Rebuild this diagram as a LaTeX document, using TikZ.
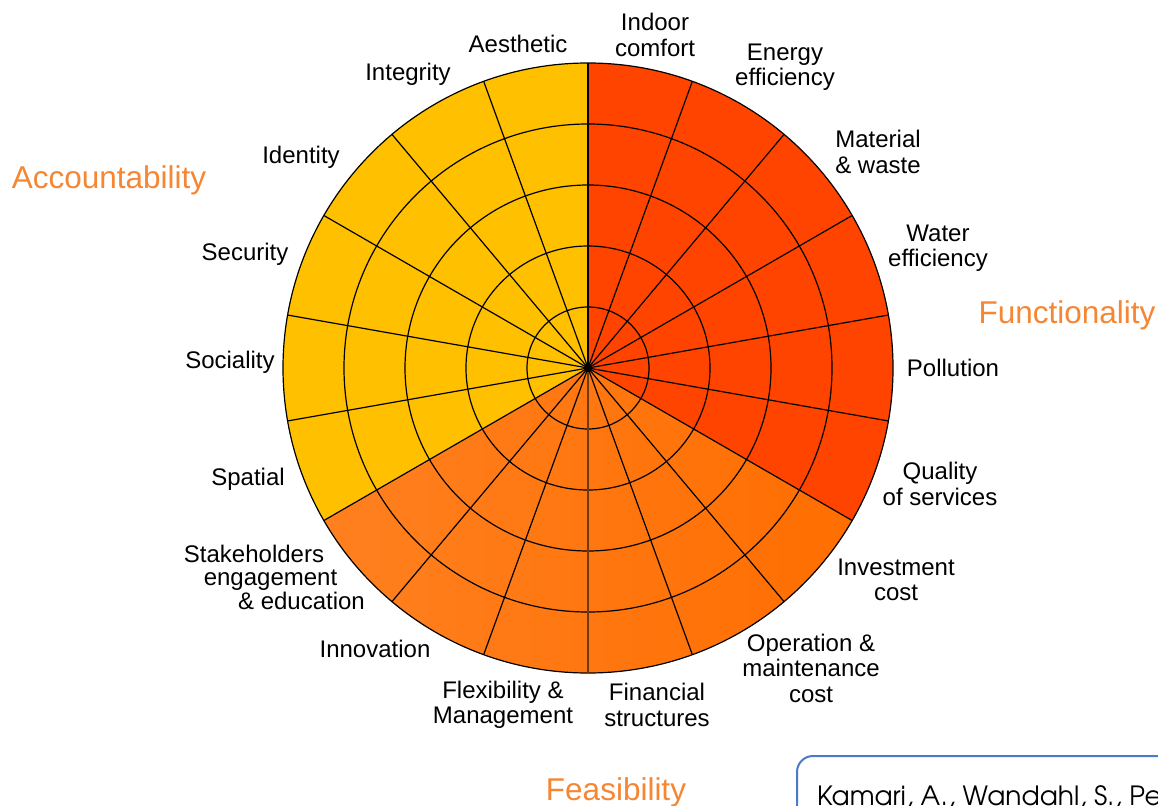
\documentclass[tikz,border=0pt]{standalone}
\usepackage{fontspec}
\setmainfont{Liberation Sans}
\newfontfamily\gothic{texgyreadventor-regular.otf}
\definecolor{cred}{HTML}{FF4400}
\definecolor{corangeL}{HTML}{FF8020}
\definecolor{corangeR}{HTML}{FF6E00}
\definecolor{cyellow}{HTML}{FFC000}
\definecolor{ccat}{HTML}{F58634}
\definecolor{cbox}{HTML}{4A7AC8}
\definecolor{cbrown}{HTML}{6E3A10}
\begin{document}
\begin{tikzpicture}[x=1pt,y=-1pt,
  lab/.style={font=\fontsize{24}{25.5}\selectfont, align=center, inner sep=0pt},
  cat/.style={font=\fontsize{31.5}{34}\selectfont, text=ccat, inner sep=0pt, anchor=base},
  gridline/.style={line width=1.2pt, black}]
\useasboundingbox (0,0) rectangle (1158,805);
\coordinate (c) at (588,368);
% sectors
\fill[cred] (c) -- ++(-90:305) arc[start angle=-90,end angle=30,radius=305] -- cycle;
\shade[left color=corangeL, right color=corangeR] (c) -- ++(30:305) arc[start angle=30,end angle=150,radius=305] -- cycle;
\fill[cyellow] (c) -- ++(150:305) arc[start angle=150,end angle=270,radius=305] -- cycle;
% rings
\foreach \r in {61,122,183,244,305}
  \draw[gridline] (c) circle[radius=\r];
% spokes
\foreach \a in {10,30,...,350}
  \draw[gridline] (c) -- ++(\a:305);
\draw[line width=1.8pt, cbrown] (c) -- ++(90:305);
\fill (c) circle[radius=4];
% item labels
\node[lab] (indoor) at (655,35) {Indoor\\comfort};
\node[lab] (energy) at (785,67) {Energy\\efficiency};
\node[lab] (material) at (878,152) {Material\\\& waste};
\node[lab] (water) at (938,248) {Water\\efficiency};
\node[lab] (pollution) at (953,368) {Pollution};
\node[lab] (quality) at (940,484) {Quality\\of services};
\node[lab] (invest) at (896,580) {Investment\\cost};
\node[lab] (operation) at (811,668) {Operation \&\\maintenance\\cost};
\node[lab] (financial) at (657,705) {Financial\\structures};
\node[lab] (flex) at (503,705) {Flexibility \&\\Management};
\node[lab] (innov) at (375,649) {Innovation};
\node[lab, anchor=base] (stake1) at (254,562) {Stakeholders};
\node[lab, anchor=base] (stake2) at (270.5,585) {engagement};
\node[lab, anchor=base] (stake3) at (301.5,609) {\& education};
\node[lab] (spatial) at (248,479) {Spatial};
\node[lab] (sociality) at (230,362) {Sociality};
\node[lab] (security) at (245,254) {Security};
\node[lab] (identity) at (301,157) {Identity};
\node[lab] (integrity) at (408,74) {Integrity};
\node[lab] (aesthetic) at (518,44) {Aesthetic};
% category labels
\node[cat] (acc) at (109,189) {Accountability};
\node[cat] (func) at (1067,323) {Functionality};
\node[cat] (feas) at (616,800) {Feasibility};
% reference box
\draw[cbox, line width=2pt, rounded corners=16pt] (797,756) rectangle (1220,870);
\node[font=\gothic\fontsize{26.5}{30}\selectfont, anchor=base west, inner sep=0pt] (ref) at (817,805) {Kamari, A., Wandahl, S., Pe};
\end{tikzpicture}
\end{document}
